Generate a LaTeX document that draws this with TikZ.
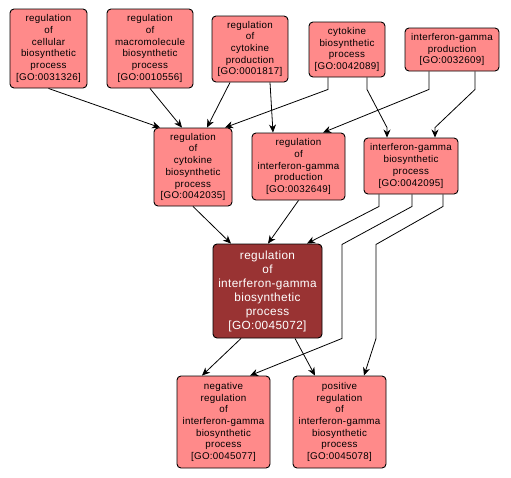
\documentclass[tikz,border=0pt]{standalone}
\usepackage{fontspec}
\setmainfont{Liberation Sans}[LetterSpace=3]
\usetikzlibrary{arrows.meta}
\definecolor{lightgo}{HTML}{FF8A8A}
\definecolor{darkgo}{HTML}{993333}
\tikzset{
  goterm/.style={draw=black, line width=0.9pt, fill=lightgo, rounded corners=4pt,
    align=center, inner sep=0pt, font=\fontsize{9.8}{11.7}\selectfont},
  goquery/.style={goterm, fill=darkgo, text=white, font=\fontsize{11.8}{14}\selectfont},
  edge/.style={draw=black, line width=0.8pt, -{Stealth[length=8pt,width=7pt,inset=2.5pt]}}
}
\begin{document}
\begin{tikzpicture}[x=1pt,y=-1pt]
\useasboundingbox (0,0) rectangle (511,477);
\node[goterm, minimum width=77pt, minimum height=79pt] (n31326) at (48.5,48.5)
  {regulation\\of\\cellular\\biosynthetic\\process\\{[}GO:0031326{]}};
\node[goterm, minimum width=86pt, minimum height=79pt] (n10556) at (150,48.5)
  {regulation\\of\\macromolecule\\biosynthetic\\process\\{[}GO:0010556{]}};
\node[goterm, minimum width=76pt, minimum height=66pt] (n1817) at (250,49)
  {regulation\\of\\cytokine\\production\\{[}GO:0001817{]}};
\node[goterm, minimum width=76pt, minimum height=55pt] (n42089) at (347,49.5)
  {cytokine\\biosynthetic\\process\\{[}GO:0042089{]}};
\node[goterm, minimum width=94pt, minimum height=43pt] (n32609) at (452,49.5)
  {interferon-gamma\\production\\{[}GO:0032609{]}};
\node[goterm, minimum width=78pt, minimum height=78pt] (n42035) at (193,167)
  {regulation\\of\\cytokine\\biosynthetic\\process\\{[}GO:0042035{]}};
\node[goterm, minimum width=93pt, minimum height=67pt] (n32649) at (298.5,166.5)
  {regulation\\of\\interferon-gamma\\production\\{[}GO:0032649{]}};
\node[goterm, minimum width=94pt, minimum height=56pt] (n42095) at (411,166)
  {interferon-gamma\\biosynthetic\\process\\{[}GO:0042095{]}};
\node[goquery, minimum width=109pt, minimum height=94pt] (n45072) at (267.5,291)
  {regulation\\of\\interferon-gamma\\biosynthetic\\process\\{[}GO:0045072{]}};
\node[goterm, minimum width=93pt, minimum height=92pt] (n45077) at (223.5,422)
  {negative\\regulation\\of\\interferon-gamma\\biosynthetic\\process\\{[}GO:0045077{]}};
\node[goterm, minimum width=93pt, minimum height=92pt] (n45078) at (339.5,422)
  {positive\\regulation\\of\\interferon-gamma\\biosynthetic\\process\\{[}GO:0045078{]}};

% edges
\draw[edge] (n31326.south) -- ([xshift=-33pt]n42035.north);
\draw[edge] (n10556.south) -- ([xshift=-11pt]n42035.north);
\draw[edge] ([xshift=-20pt]n1817.south) -- ([xshift=14pt]n42035.north);
\draw[edge] ([xshift=20pt]n1817.south) -- ([xshift=-25.5pt]n32649.north);
\draw[edge] ([xshift=-19pt]n42089.south) -- ++(0,12) -- ([xshift=32pt]n42035.north);
\draw[edge] ([xshift=20pt]n42089.south) -- ++(0,12) -- ([xshift=-24pt,yshift=10pt]n42095.north) -- ([xshift=-24pt]n42095.north);
\draw[edge] ([xshift=-23pt]n32609.south) -- ++(0,18) -- ([xshift=24.5pt]n32649.north);
\draw[edge] ([xshift=23pt]n32609.south) -- ++(0,18) -- ([xshift=24pt,yshift=10pt]n42095.north) -- ([xshift=24pt]n42095.north);
\draw[edge] (n42035.south) -- ([xshift=-36.5pt]n45072.north);
\draw[edge] (n32649.south) -- ([xshift=0.5pt]n45072.north);
\draw[edge] ([xshift=-32pt]n42095.south) -- ++(0,12) -- ([xshift=39.5pt]n45072.north);
\draw[edge] ([xshift=1pt]n42095.south) -- ++(0,12) -- ++(-70,38) -- ++(0,94) -- ([xshift=26.5pt]n45077.north);
\draw[edge] ([xshift=32pt]n42095.south) -- ++(0,12) -- ++(-67,38) -- ++(0,94) -- ([xshift=24.5pt]n45078.north);
\draw[edge] ([xshift=-26.5pt]n45072.south) -- ([xshift=-21.5pt]n45077.north);
\draw[edge] ([xshift=27.5pt]n45072.south) -- ([xshift=-24.5pt]n45078.north);
\end{tikzpicture}
\end{document}
